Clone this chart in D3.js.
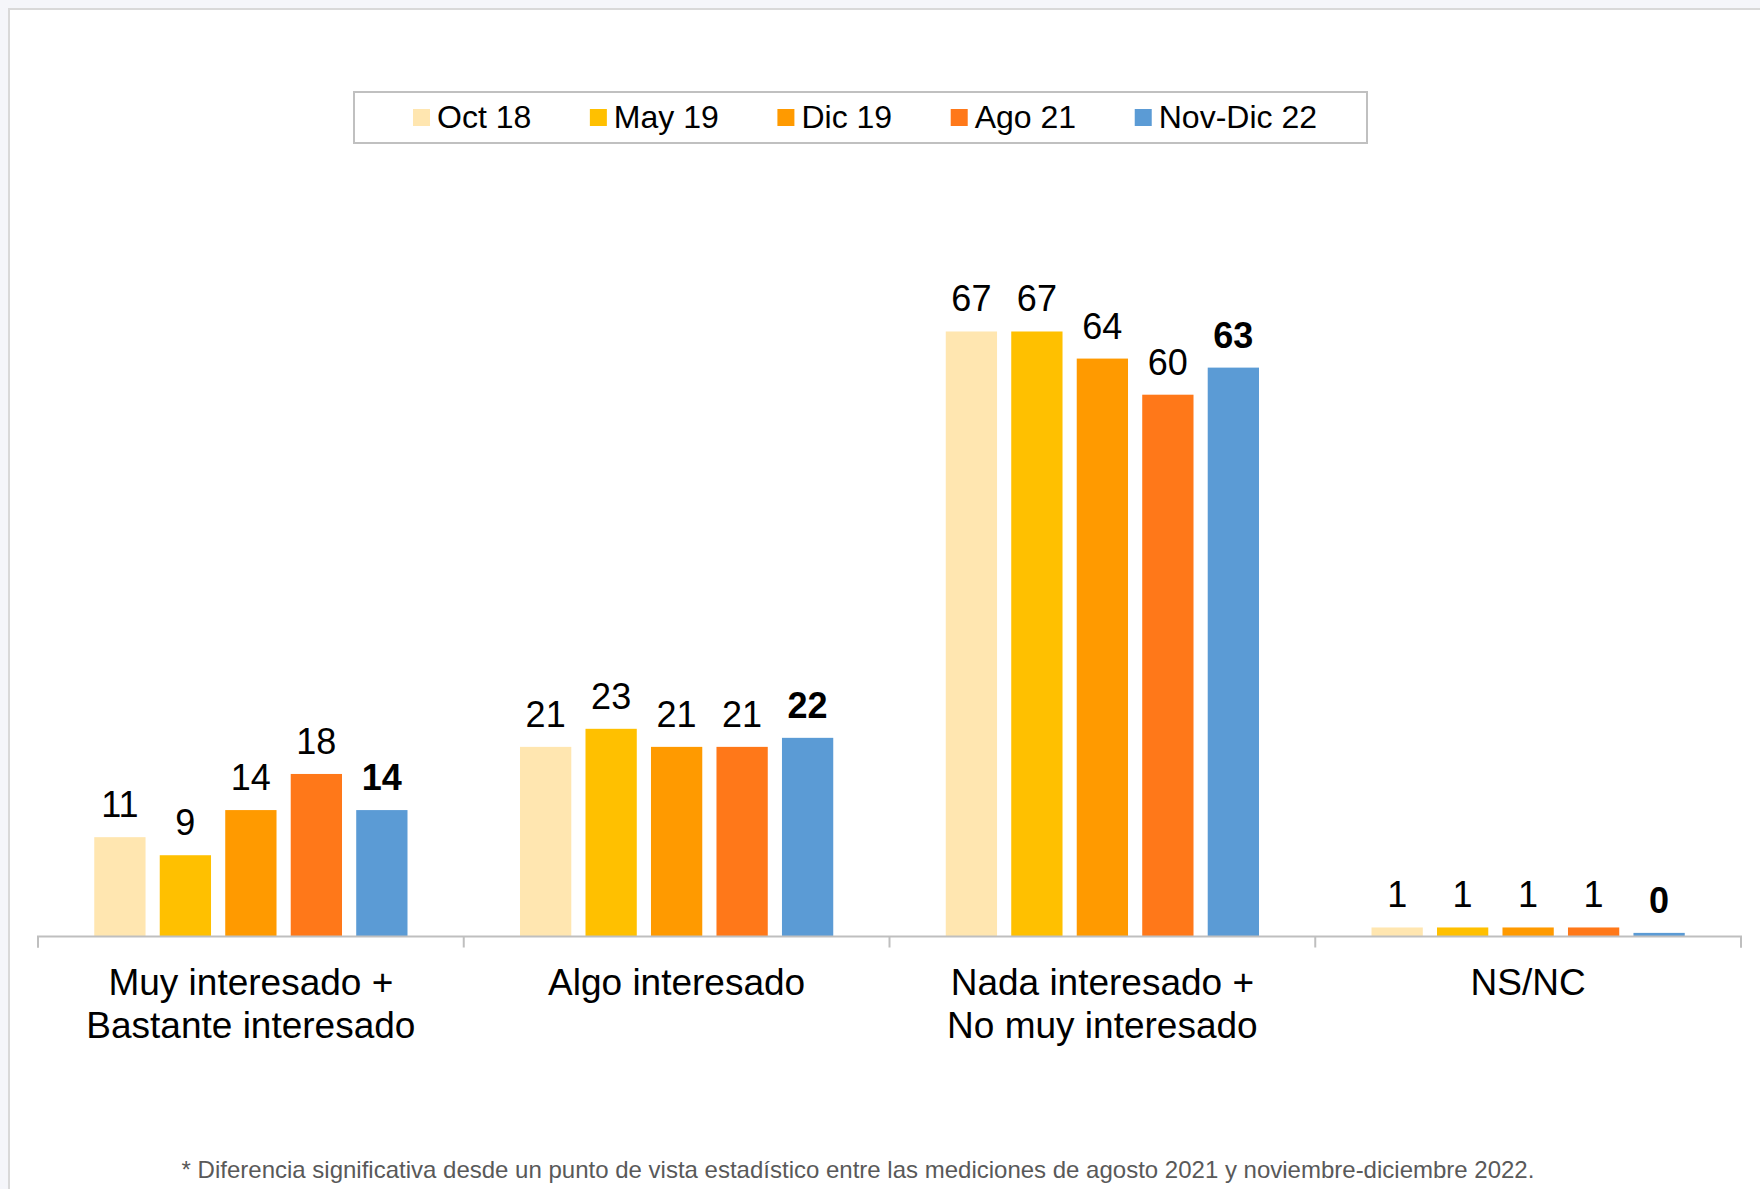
<!DOCTYPE html>
<html>
<head>
<meta charset="utf-8">
<script src="https://cdn.jsdelivr.net/npm/d3@7"></script>
<style>
  html, body { margin: 0; padding: 0; background: #f5f6fa; }
  svg { display: block; }
  text { font-family: "Liberation Sans", Arial, sans-serif; }
</style>
</head>
<body>
<svg id="chart" width="1760" height="1189"></svg>
<script>
// ---- data ----
const categories = [
  ["Muy interesado +", "Bastante interesado"],
  ["Algo interesado"],
  ["Nada interesado +", "No muy interesado"],
  ["NS/NC"]
];
const series = ["Oct 18", "May 19", "Dic 19", "Ago 21", "Nov-Dic 22"];
const oct18   = [11, 21, 67, 1];
const may19   = [9, 23, 67, 1];
const dic19   = [14, 21, 64, 1];
const ago21   = [18, 21, 60, 1];
const novDic22 = [14, 22, 63, 0.4];
const seriesValues = [oct18, may19, dic19, ago21, novDic22];
const colors = ["#FFE6B0", "#FFC000", "#FF9A00", "#FF7819", "#5B9BD5"];
const footnote = "* Diferencia significativa desde un punto de vista estadístico entre las mediciones de agosto 2021 y noviembre-diciembre 2022.";

// ---- layout ----
const svg = d3.select("#chart");
const W = 1760, H = 1189;
const axisY = 936.5;
const left = 38, right = 1741;

// panel
svg.append("rect").attr("x", 9).attr("y", 9).attr("width", W).attr("height", H)
  .attr("fill", "#fff").attr("stroke", "#d9d9d9").attr("stroke-width", 2);

const catIdx = categories.map((c, i) => i);
const x0 = d3.scaleBand().domain(catIdx).range([left, right]).padding(0);
const x1 = d3.scaleBand().domain(series).range([0, x0.bandwidth()])
  .paddingInner(0.217).paddingOuter(0.859);
const y = d3.scaleLinear().domain([0, 70]).range([axisY, axisY - 70 * 9.03]);

// bars
const groups = svg.append("g").selectAll("g").data(catIdx).join("g")
  .attr("transform", i => `translate(${x0(i)},0)`);

groups.selectAll("rect").data(i => series.map((s, k) => ({s, k, v: seriesValues[k][i]})))
  .join("rect")
  .attr("x", d => x1(d.s))
  .attr("width", x1.bandwidth())
  .attr("y", d => y(d.v))
  .attr("height", d => y(0) - y(d.v))
  .attr("fill", d => colors[d.k]);

groups.selectAll("text").data(i => series.map((s, k) => ({s, k, v: seriesValues[k][i]})))
  .join("text")
  .attr("x", d => x1(d.s) + x1.bandwidth() / 2)
  .attr("y", d => y(d.v) - 20)
  .attr("text-anchor", "middle")
  .attr("font-size", 36)
  .attr("font-weight", d => d.k === series.length - 1 ? "bold" : "normal")
  .attr("fill", "#000")
  .text(d => Math.round(d.v));

// axis
const axis = d3.axisBottom(x0).tickSize(11).tickFormat("");
const axG = svg.append("g").attr("transform", `translate(0,${axisY})`).call(axis);
axG.select(".domain").attr("stroke", "#bfbfbf").attr("stroke-width", 2)
  .attr("d", `M${left},11V0H${right}V11`);
axG.selectAll(".tick").remove();
// boundary ticks
const bounds = d3.range(categories.length + 1).map(i => i === categories.length ? right : x0(i));
axG.selectAll("line.b").data(bounds).join("line").attr("class", "b")
  .attr("x1", d => d).attr("x2", d => d).attr("y1", 0).attr("y2", 11)
  .attr("stroke", "#bfbfbf").attr("stroke-width", 2);

// category labels
const catG = svg.append("g");
catIdx.forEach(i => {
  const t = catG.append("text")
    .attr("x", x0(i) + x0.bandwidth() / 2)
    .attr("y", 995)
    .attr("text-anchor", "middle")
    .attr("font-size", 37)
    .attr("fill", "#000");
  categories[i].forEach((line, j) => {
    t.append("tspan").attr("x", x0(i) + x0.bandwidth() / 2)
      .attr("dy", j === 0 ? 0 : 43).text(line);
  });
});

// legend
const lg = svg.append("g");
lg.append("rect").attr("x", 354).attr("y", 92).attr("width", 1013).attr("height", 51)
  .attr("fill", "#fff").attr("stroke", "#c0c0c0").attr("stroke-width", 2);
const items = lg.append("g");
const gap = 58.6;
let cx = 0;
series.forEach((s, k) => {
  const it = items.append("g").attr("transform", `translate(${cx},0)`);
  it.append("rect").attr("x", 0).attr("y", 109).attr("width", 17).attr("height", 17)
    .attr("fill", colors[k]);
  const tx = it.append("text").attr("x", 24).attr("y", 127.5)
    .attr("font-size", 32).attr("fill", "#000").text(s);
  const w = tx.node().getComputedTextLength();
  cx += 24 + w + gap;
});
const totalW = cx - gap;
items.attr("transform", `translate(${865 - totalW / 2},0)`);

// footnote
svg.append("text").attr("x", 858).attr("y", 1178)
  .attr("text-anchor", "middle").attr("font-size", 24).attr("fill", "#595959")
  .text(footnote);
</script>
</body>
</html>
